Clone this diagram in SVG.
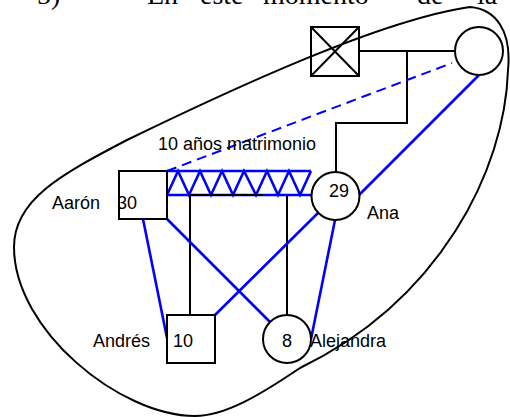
<svg xmlns="http://www.w3.org/2000/svg" width="510" height="417" viewBox="0 0 510 417">
<style>
.k{fill:none;stroke:#000;stroke-width:2}
.n{fill:#fff;stroke:#000;stroke-width:2}
.b{fill:none;stroke:#0000ff;stroke-width:2.6}
.d{fill:none;stroke:#0000ff;stroke-width:2;stroke-dasharray:10 6}
.t{font-family:"Liberation Sans",Arial,sans-serif;font-size:18px;fill:#000}
.s{font-family:"Liberation Serif","Times New Roman",serif;font-size:28px;fill:#000}
</style>
<rect width="510" height="417" fill="#fff"/>
<g id="heading">
<text class="s" x="37" y="4">5)</text>
<text class="s" x="147" y="4">En</text>
<text class="s" x="200" y="4">este</text>
<text class="s" x="263" y="4">momento</text>
<text class="s" x="417" y="4">de</text>
<text class="s" x="477" y="4">la</text>
</g>
<g id="connectors">
<path class="k" d="M359,51 H455 M407,51 V123 H336 V172"/>
<path class="d" d="M167,171 L452,63"/>
<path class="b" d="M167,171 H311 M167,195 H311 M167,195 L178,171 L189,195 L200,171 L211,195 L222,171 L233,195 L244,171 L256,195 L267,171 L278,195 L289,171 L300,195 L311,171"/>
<path class="k" d="M190,195 H263 M190,195 V315 M287,195 V315"/>
<path class="b" d="M479,75 L359,195"/>
<path class="b" d="M143,219 L167,338"/>
<path class="b" d="M167,219 L270,322"/>
<path class="b" d="M215,315 L318,213"/>
<path class="b" d="M335,220 L311,339"/>
</g>
<g id="node-deceased">
<rect class="n" x="311" y="27" width="48" height="49"/>
<path class="k" d="M311,27 L359,76 M359,27 L311,76"/>
</g>
<g id="node-woman-top"><circle class="n" cx="479" cy="51" r="24"/></g>
<g id="node-aaron">
<rect class="n" x="119" y="171" width="48" height="48"/>
<text class="t" x="52" y="209">Aarón</text>
<text class="t" x="117" y="209">30</text>
</g>
<g id="node-ana">
<circle class="n" cx="335.5" cy="196" r="24"/>
<text class="t" x="329" y="197">29</text>
<text class="t" x="367" y="219">Ana</text>
</g>
<g id="node-andres">
<rect class="n" x="167" y="315" width="48" height="48"/>
<text class="t" x="93" y="347">Andrés</text>
<text class="t" x="173" y="347">10</text>
</g>
<g id="node-alejandra">
<circle class="n" cx="287" cy="339" r="24"/>
<text class="t" x="282" y="347">8</text>
<text class="t" x="310" y="347">Alejandra</text>
</g>
<text class="t" x="158" y="150">10 años matrimonio</text>
<g id="boundary">
<path class="k" d="M470,7 C495,9 512,30 508,70 C505,170 440,300 300,368 C260,395 225,416 195,416 C120,416 14,330 14,247 C14,200 60,175 127,140 C230,90 380,20 470,7 Z"/>
</g>
</svg>
